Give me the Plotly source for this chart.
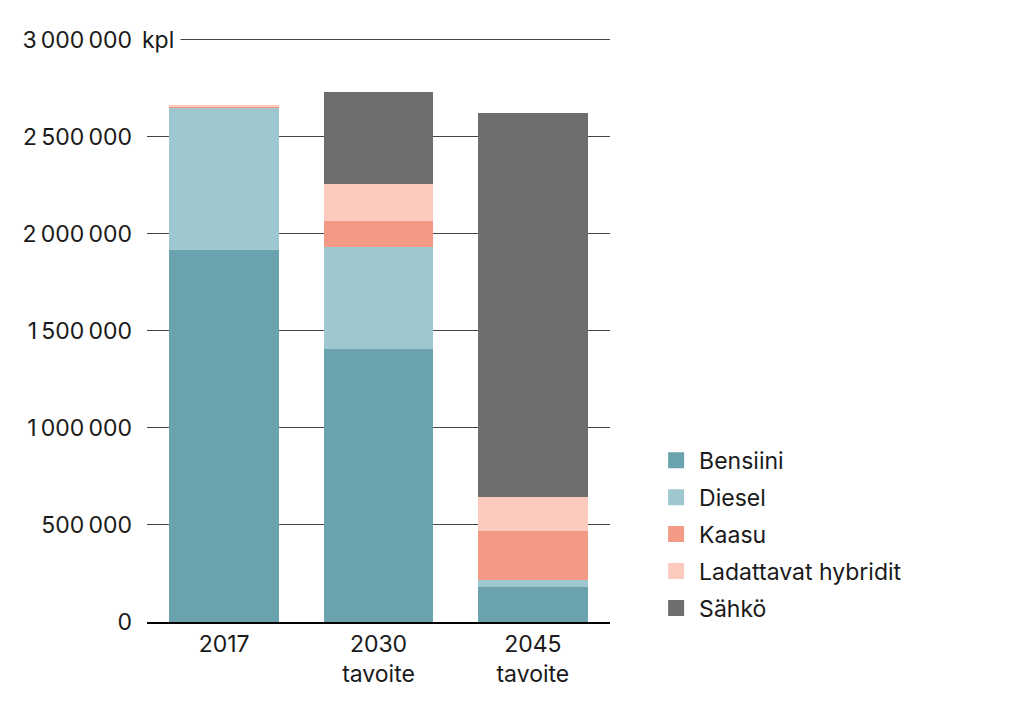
import plotly.graph_objects as go

# Henkilöautokanta käyttövoimittain
vuodet = ["2017", "2030<br>tavoite", "2045<br>tavoite"]
bensiini = [1916000, 1407000, 180000]
diesel = [734000, 524000, 36000]
kaasu = [3000, 134000, 251000]
hybridit = [8000, 190000, 175000]
sahko = [0, 473000, 1978000]

sarjat = ["Bensiini", "Diesel", "Kaasu", "Ladattavat hybridit", "Sähkö"]
varit = ["#6aa3ae", "#9fc7d0", "#f29a85", "#fdcbbd", "#6e6e6e"]

tick_arvot = [0, 500000, 1000000, 1500000, 2000000, 2500000, 3000000]
tick_tekstit = ["0", "500\u2009000", "1\u2009000\u2009000", "1\u2009500\u2009000",
                "2\u2009000\u2009000", "2\u2009500\u2009000", "3\u2009000\u2009000"]

FONT = "Inter"
KOKO = 23

fig = go.Figure()
for nimi, arvot, vari in zip(sarjat, [bensiini, diesel, kaasu, hybridit, sahko], varit):
    fig.add_trace(go.Bar(x=vuodet, y=arvot, name=nimi, marker_color=vari,
                         marker_line_width=0, showlegend=False))
    # selitteen neliöt
    fig.add_trace(go.Scatter(x=[None], y=[None], mode="markers", name=nimi,
                             legendgroup=nimi,
                             marker=dict(symbol="square", size=22, color=vari)))

fig.add_annotation(text="kpl", xref="paper", yref="y", x=-0.025, y=3000000,
                   xanchor="left", yanchor="middle", showarrow=False,
                   bgcolor="white", borderpad=6,
                   font=dict(size=KOKO, color="#1a1a1a", family=FONT))

fig.update_layout(
    barmode="stack",
    bargap=0.29,
    width=1024, height=704,
    margin=dict(l=139, r=422, t=28, b=90),
    plot_bgcolor="white", paper_bgcolor="white",
    font=dict(family=FONT, size=KOKO, color="#1a1a1a"),
    legend=dict(xref="container", yref="container", x=0.63, y=0.388,
                xanchor="left", yanchor="top", traceorder="grouped",
                font=dict(size=KOKO), tracegroupgap=4, itemwidth=36),
    xaxis=dict(showline=True, linecolor="black", linewidth=2, ticks="",
               tickfont=dict(size=KOKO)),
    yaxis=dict(range=[0, 3018000], tickvals=tick_arvot, ticktext=tick_tekstit,
               showgrid=True, gridcolor="#444444", gridwidth=1, zeroline=False,
               ticklabelstandoff=14, tickfont=dict(size=KOKO)),
)

fig.write_html("out.html")
